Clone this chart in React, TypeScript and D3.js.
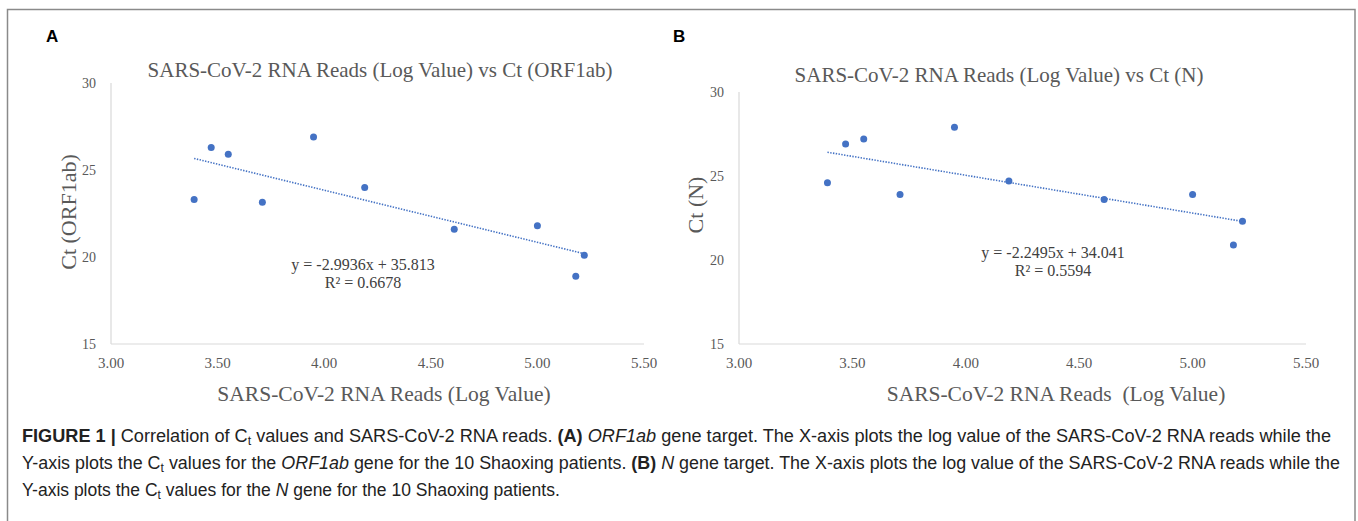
import React from "react";
import * as d3 from "d3";

// ---- data ----
const readsLog = [3.39, 3.47, 3.55, 3.71, 3.95, 4.19, 4.61, 5.0, 5.18, 5.22];
const ctORF1ab = [23.3, 26.3, 25.9, 23.15, 26.9, 24.0, 21.6, 21.8, 18.9, 20.1];
const ctN = [24.6, 26.9, 27.2, 23.9, 27.9, 24.7, 23.6, 23.9, 20.9, 22.3];
const xTicks = [3.0, 3.5, 4.0, 4.5, 5.0, 5.5];
const yTicks = [15, 20, 25, 30];
const fitORF1ab = { slope: -2.9936, intercept: 35.813, r2: "0.6678" };
const fitN = { slope: -2.2495, intercept: 34.041, r2: "0.5594" };

const SERIF = "'Liberation Serif', 'Times New Roman', serif";
const SANS = "'Liberation Sans', Arial, Helvetica, sans-serif";
const GRAY = "#595959";
const BLUE = "#4472C4";

type PanelProps = {
  letter: string;
  letterX: number;
  title: string;
  titleX: number;
  titleY: number;
  yLabel: string;
  yLabelX: number;
  yLabelY: number;
  xLabel: string;
  xLabelX: number;
  x0: number;
  x1: number;
  yTop: number;
  yBottom: number;
  values: number[];
  fit: { slope: number; intercept: number; r2: string };
  eqX: number;
  eqY: number;
};

function Panel(p: PanelProps) {
  const x = d3.scaleLinear().domain([3.0, 5.5]).range([p.x0, p.x1]);
  const y = d3.scaleLinear().domain([15, 30]).range([p.yBottom, p.yTop]);
  const [mn, mx] = d3.extent(readsLog) as [number, number];
  const fitPts: [number, number][] = [mn, mx].map((v) => [v, p.fit.slope * v + p.fit.intercept]);
  const line = d3
    .line<[number, number]>()
    .x((d) => x(d[0]))
    .y((d) => y(d[1]));
  const sign = p.fit.intercept >= 0 ? "+" : "-";
  return (
    <g>
      <text x={p.letterX} y={42} fontFamily={SANS} fontWeight="bold" fontSize={17} fill="#000">
        {p.letter}
      </text>
      <text x={p.titleX} y={p.titleY} textAnchor="middle" fontFamily={SERIF} fontSize={21} fill={GRAY}>
        {p.title}
      </text>
      {/* axes */}
      <line x1={p.x0} x2={p.x0} y1={y(30)} y2={y(15)} stroke="#d9d9d9" strokeWidth={1.2} />
      <line x1={p.x0} x2={p.x1} y1={y(15)} y2={y(15)} stroke="#d9d9d9" strokeWidth={1.2} />
      {yTicks.map((t) => (
        <text key={t} x={p.x0 - 15} y={y(t)} dy="0.35em" textAnchor="end" fontFamily={SERIF} fontSize={14} fill={GRAY}>
          {t}
        </text>
      ))}
      {xTicks.map((t) => (
        <text key={t} x={x(t)} y={y(15) + 19} dy="0.35em" textAnchor="middle" fontFamily={SERIF} fontSize={15} fill={GRAY}>
          {d3.format(".2f")(t)}
        </text>
      ))}
      <text
        transform={`translate(${p.yLabelX},${p.yLabelY}) rotate(-90)`}
        textAnchor="middle"
        dy="0.35em"
        fontFamily={SERIF}
        fontSize={22}
        fill={GRAY}
      >
        {p.yLabel}
      </text>
      <text x={p.xLabelX} y={401} textAnchor="middle" fontFamily={SERIF} fontSize={21.5} fill={GRAY} style={{ whiteSpace: "pre" }}>
        {p.xLabel}
      </text>
      {/* trendline */}
      <path d={line(fitPts) || ""} fill="none" stroke={BLUE} strokeWidth={1.6} strokeDasharray="1.4,1.4" />
      {/* points */}
      {readsLog.map((v, i) => (
        <circle key={i} cx={x(v)} cy={y(p.values[i])} r={3.5} fill={BLUE} />
      ))}
      {/* equation */}
      <text x={p.eqX} y={p.eqY} textAnchor="middle" fontFamily={SERIF} fontSize={16} fill="#404040">
        {`y = ${p.fit.slope}x ${sign} ${Math.abs(p.fit.intercept)}`}
      </text>
      <text x={p.eqX} y={p.eqY + 18} textAnchor="middle" fontFamily={SERIF} fontSize={16} fill="#404040">
        {`R² = ${p.fit.r2}`}
      </text>
    </g>
  );
}

function Sub({ children }: { children: React.ReactNode }) {
  return (
    <tspan baselineShift="-25%" fontSize={12}>
      {children}
    </tspan>
  );
}

export default function App() {
  return (
    <svg
      width={1358}
      height={521}
      style={{ position: "absolute", left: 0, top: 0, background: "#fff" }}
    >
      <rect x={0} y={0} width={1358} height={521} fill="#fff" />
      <path d="M7.5,540 V9.5 H1355 V540" fill="none" stroke="#8a8a8a" strokeWidth={1.5} />
      <Panel
        letter="A"
        letterX={46}
        title="SARS-CoV-2 RNA Reads (Log Value) vs Ct (ORF1ab)"
        titleX={380}
        titleY={77}
        yLabel="Ct (ORF1ab)"
        yLabelX={68}
        yLabelY={212}
        xLabel="SARS-CoV-2 RNA Reads (Log Value)"
        xLabelX={384}
        x0={111}
        x1={644}
        yTop={83}
        yBottom={344}
        values={ctORF1ab}
        fit={fitORF1ab}
        eqX={363}
        eqY={270}
      />
      <Panel
        letter="B"
        letterX={673}
        title="SARS-CoV-2 RNA Reads (Log Value) vs Ct (N)"
        titleX={999}
        titleY={82}
        yLabel="Ct (N)"
        yLabelX={695}
        yLabelY={205}
        xLabel="SARS-CoV-2 RNA Reads  (Log Value)"
        xLabelX={1056}
        x0={739}
        x1={1306}
        yTop={92}
        yBottom={344}
        values={ctN}
        fit={fitN}
        eqX={1053}
        eqY={258}
      />
      <g fontFamily={SANS} fontSize={17.5} fill="#222">
        <text x={22} y={442} textLength={1309} lengthAdjust="spacingAndGlyphs">
          <tspan fontWeight="bold">FIGURE 1 | </tspan>
          Correlation of C<Sub>t</Sub> values and SARS-CoV-2 RNA reads. <tspan fontWeight="bold">(A)</tspan>{" "}
          <tspan fontStyle="italic">ORF1ab</tspan> gene target. The X-axis plots the log value of the SARS-CoV-2 RNA reads while the
        </text>
        <text x={22} y={469} textLength={1318} lengthAdjust="spacingAndGlyphs">
          Y-axis plots the C<Sub>t</Sub> values for the <tspan fontStyle="italic">ORF1ab</tspan> gene for the 10 Shaoxing
          patients. <tspan fontWeight="bold">(B)</tspan> <tspan fontStyle="italic">N</tspan> gene target. The X-axis plots
          the log value of the SARS-CoV-2 RNA reads while the
        </text>
        <text x={22} y={496}>
          Y-axis plots the C<Sub>t</Sub> values for the <tspan fontStyle="italic">N</tspan> gene for the 10 Shaoxing patients.
        </text>
      </g>
    </svg>
  );
}
